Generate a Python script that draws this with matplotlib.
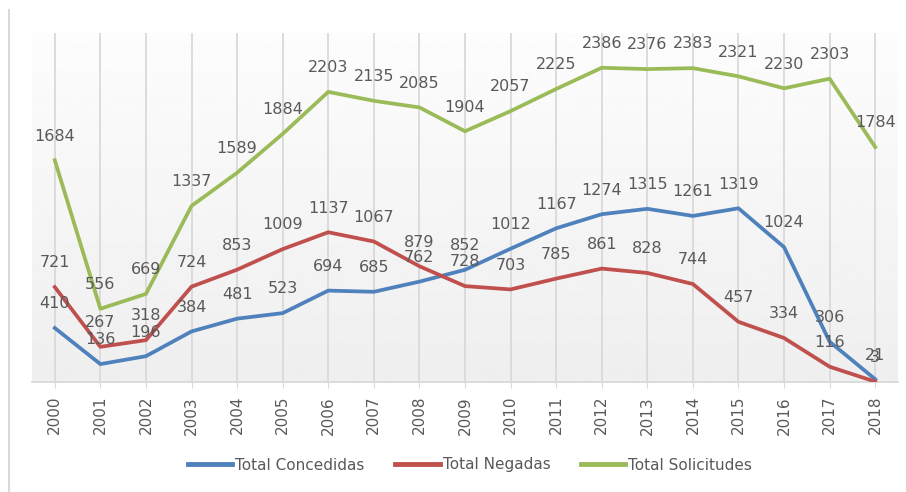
import numpy as np
import matplotlib.pyplot as plt
from matplotlib.lines import Line2D

# -----------------------------
# Data
# -----------------------------
YEARS = [str(y) for y in range(2000, 2019)]
CONCEDIDAS = [410, 136, 196, 384, 481, 523, 694, 685, 762, 852,
              1012, 1167, 1274, 1315, 1261, 1319, 1024, 306, 21]
NEGADAS = [721, 267, 318, 724, 853, 1009, 1137, 1067, 879, 728,
           703, 785, 861, 828, 744, 457, 334, 116, 3]
SOLICITUDES = [1684, 556, 669, 1337, 1589, 1884, 2203, 2135, 2085, 1904,
               2057, 2225, 2386, 2376, 2383, 2321, 2230, 2303, 1784]

SERIES = [
    ("Total Concedidas", CONCEDIDAS, "#4F81BD"),
    ("Total Negadas", NEGADAS, "#C0504D"),
    ("Total Solicitudes", SOLICITUDES, "#9BBB59"),
]

TEXT_GRAY = "#595959"
GRID_GRAY = "#d9d9d9"

fig = plt.figure(figsize=(9.06, 4.92), dpi=100)
ax = fig.add_axes([32 / 906, 110 / 492, 866 / 906, 349 / 492])

x = np.arange(len(YEARS))
ax.set_xlim(-0.5, len(YEARS) - 0.5)
ax.set_ylim(0, 2650)

# gradient plot area background
grad = np.linspace(0.99, 0.935, 256).reshape(-1, 1)
ax.imshow(grad, cmap="gray", vmin=0, vmax=1, aspect="auto",
          extent=(-0.5, len(YEARS) - 0.5, 0, 2650), origin="upper", zorder=0)

for xi in x:
    ax.axvline(xi, color=GRID_GRAY, lw=1.3, zorder=1)

for name, vals, color in SERIES:
    ax.plot(x, vals, color=color, lw=2.7, label=name, zorder=3,
            solid_joinstyle="round")
    for xi, v in zip(x, vals):
        ax.annotate(str(v), (xi, v), xytext=(0, 12), textcoords="offset points",
                    ha="center", va="bottom", fontsize=11.5, color=TEXT_GRAY,
                    zorder=4)

for side in ["left", "right", "top"]:
    ax.spines[side].set_visible(False)
ax.spines["bottom"].set_color(GRID_GRAY)
ax.spines["bottom"].set_linewidth(1.3)

ax.set_yticks([])
ax.set_xticks(x)
ax.set_xticklabels(YEARS, rotation=90, fontsize=11, color=TEXT_GRAY)
ax.tick_params(axis="x", length=4, color=GRID_GRAY, pad=6)

leg = fig.legend(loc="center", bbox_to_anchor=(470 / 906, 27 / 492), ncol=3,
                 frameon=False, handlelength=2.9, handletextpad=0.2,
                 columnspacing=2.0, fontsize=11)
for t in leg.get_texts():
    t.set_color(TEXT_GRAY)
for h in leg.legend_handles:
    h.set_linewidth(3.5)

# thin border line at the left edge of the picture
fig.add_artist(Line2D([9 / 906, 9 / 906], [0, 482 / 492], color=GRID_GRAY,
                      lw=1.5, transform=fig.transFigure))

fig.savefig("out.png", dpi=100)
